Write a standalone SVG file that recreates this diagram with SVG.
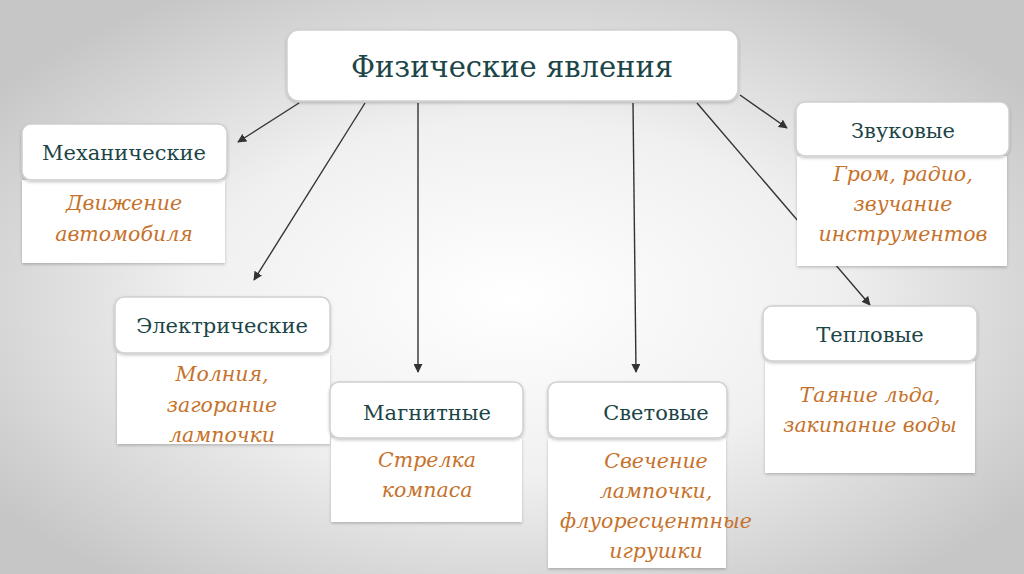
<svg xmlns="http://www.w3.org/2000/svg" width="1024" height="574" viewBox="0 0 1024 574">
<defs>
<radialGradient id="bg" cx="0.5" cy="0.52" r="0.62">
<stop offset="0" stop-color="#ffffff"/>
<stop offset="0.5" stop-color="#f0f0f0"/>
<stop offset="1" stop-color="#c6c6c6"/>
</radialGradient>
<filter id="sh" x="-10%" y="-10%" width="120%" height="130%">
<feDropShadow dx="0" dy="1.5" stdDeviation="1.5" flood-color="#000" flood-opacity="0.22"/>
</filter>
<marker id="ah" viewBox="0 0 10 10" refX="9" refY="5" markerWidth="9" markerHeight="9" markerUnits="userSpaceOnUse" orient="auto">
<path d="M0,0 L10,5 L0,10 z" fill="#333"/>
</marker>
</defs>
<style>
.hd{fill:#fff;stroke:#d0d0d0;stroke-width:1.5;filter:url(#sh)}
.bd{fill:#fff;filter:url(#sh)}
.ht{font-family:"DejaVu Serif","Liberation Serif",serif;fill:#1c4547;text-anchor:middle}
.bt{font-family:"DejaVu Serif","Liberation Serif",serif;font-style:italic;fill:#c6722b;text-anchor:middle;font-size:20.5px}
.cn{stroke:#333;stroke-width:1.4;fill:none;marker-end:url(#ah)}
</style>
<rect width="1024" height="574" fill="url(#bg)"/>
<g id="connectors">
<line class="cn" x1="299" y1="103" x2="238" y2="142"/>
<line class="cn" x1="365" y1="103" x2="254" y2="280"/>
<line class="cn" x1="418" y1="103" x2="418" y2="372"/>
<line class="cn" x1="633" y1="103" x2="636" y2="372"/>
<line class="cn" x1="697" y1="103" x2="870" y2="305"/>
<line class="cn" x1="740" y1="95" x2="787" y2="128"/>
</g>
<g id="title">
<rect class="hd" x="287" y="30" width="451" height="71" rx="12"/>
<text class="ht" x="512" y="77" font-size="29">Физические явления</text>
</g>
<g id="mech">
<rect class="bd" x="22" y="180" width="203" height="83"/>
<rect class="hd" x="22" y="124" width="205" height="56" rx="9"/>
<text class="ht" x="124" y="160" font-size="21">Механические</text>
<text class="bt" x="124" y="210">Движение</text>
<text class="bt" x="124" y="241">автомобиля</text>
</g>
<g id="elec">
<rect class="bd" x="117" y="353" width="213" height="91"/>
<rect class="hd" x="115" y="297" width="215" height="56" rx="9"/>
<text class="ht" x="222" y="333" font-size="21">Электрические</text>
<text class="bt" x="222" y="381">Молния,</text>
<text class="bt" x="222" y="412">загорание</text>
<text class="bt" x="222" y="442">лампочки</text>
</g>
<g id="magn">
<rect class="bd" x="331" y="438" width="191" height="84"/>
<rect class="hd" x="330" y="382" width="193" height="56" rx="9"/>
<text class="ht" x="427" y="420" font-size="21">Магнитные</text>
<text class="bt" x="427" y="467">Стрелка</text>
<text class="bt" x="427" y="497">компаса</text>
</g>
<g id="light">
<rect class="bd" x="548" y="438" width="178" height="130"/>
<rect class="hd" x="548" y="382" width="179" height="56" rx="9"/>
<text class="ht" x="656" y="420" font-size="21">Световые</text>
<text class="bt" x="656" y="468">Свечение</text>
<text class="bt" x="656" y="498">лампочки,</text>
<text class="bt" x="656" y="528">флуоресцентные</text>
<text class="bt" x="656" y="558">игрушки</text>
</g>
<g id="sound">
<rect class="bd" x="797" y="156" width="210" height="110"/>
<rect class="hd" x="796" y="102" width="213" height="54" rx="9"/>
<text class="ht" x="903" y="138" font-size="21">Звуковые</text>
<text class="bt" x="903" y="181">Гром, радио,</text>
<text class="bt" x="903" y="211">звучание</text>
<text class="bt" x="903" y="241">инструментов</text>
</g>
<g id="heat">
<rect class="bd" x="765" y="361" width="210" height="112"/>
<rect class="hd" x="763" y="306" width="214" height="55" rx="9"/>
<text class="ht" x="870" y="342" font-size="21">Тепловые</text>
<text class="bt" x="870" y="402">Таяние льда,</text>
<text class="bt" x="870" y="432">закипание воды</text>
</g>
</svg>
